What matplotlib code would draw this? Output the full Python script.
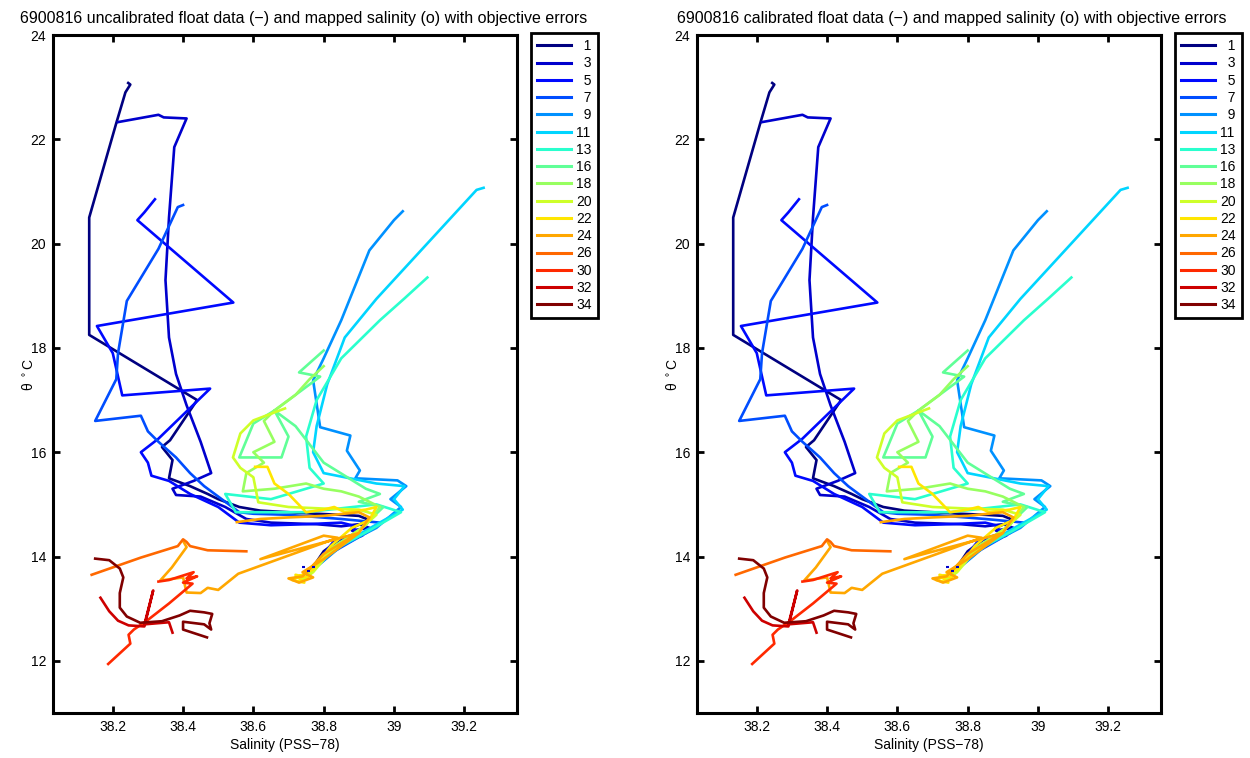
import numpy as np
import matplotlib
matplotlib.use('Agg')
import matplotlib.pyplot as plt

plt.rcParams['font.family'] = ['Liberation Sans', 'DejaVu Sans']

# ---------------- data (salinity PSS-78, potential temperature degC) ----------------
profile_numbers = [1, 3, 5, 7, 9, 11, 13, 16, 18, 20, 22, 24, 26, 30, 32, 34]

s_p01 = [38.244, 38.25, 38.236, 38.21, 38.133, 38.133, 38.30, 38.44, 38.363, 38.34, 38.37, 38.36,
         38.42, 38.47, 38.50, 38.56, 38.62, 38.70, 38.78, 38.85, 38.90, 38.93, 38.88, 38.90,
         38.85, 38.80, 38.76, 38.75]
t_p01 = [23.08, 23.05, 22.90, 22.31, 20.50, 18.25, 17.57, 17.00, 16.23, 16.10, 15.85, 15.50,
         15.35, 15.20, 15.10, 14.95, 14.88, 14.85, 14.82, 14.80, 14.78, 14.70, 14.55, 14.45,
         14.35, 14.10, 13.70, 13.60]

s_p03 = [38.215, 38.33, 38.345, 38.41, 38.375, 38.36, 38.35, 38.36, 38.38, 38.41, 38.45, 38.48,
         38.43, 38.37, 38.38, 38.45, 38.52, 38.58, 38.65, 38.78, 38.85, 38.90, 38.93, 38.88,
         38.91, 38.86, 38.79, 38.755]
t_p03 = [22.33, 22.47, 22.42, 22.40, 21.85, 20.50, 19.30, 18.20, 17.50, 16.90, 16.20, 15.60,
         15.45, 15.30, 15.18, 15.15, 14.95, 14.72, 14.65, 14.62, 14.58, 14.62, 14.55, 14.50,
         14.40, 14.30, 13.95, 13.65]

s_p05 = [38.32, 38.29, 38.27, 38.543, 38.155, 38.20, 38.227, 38.477, 38.33, 38.28, 38.30, 38.31,
         38.36, 38.42, 38.50, 38.56, 38.65, 38.75, 38.85, 38.88, 38.90, 38.83, 38.77, 38.76]
t_p05 = [20.85, 20.60, 20.45, 18.87, 18.42, 17.90, 17.09, 17.22, 16.26, 16.00, 15.80, 15.55,
         15.45, 15.20, 14.95, 14.65, 14.60, 14.62, 14.65, 14.60, 14.40, 14.30, 13.80, 13.65]

s_p07 = [38.40, 38.385, 38.33, 38.24, 38.215, 38.21, 38.15, 38.28, 38.30, 38.33, 38.38, 38.42,
         38.46, 38.52, 38.56, 38.60, 38.70, 38.85, 38.96, 38.92, 38.83, 38.77, 38.755]
t_p07 = [20.74, 20.70, 19.90, 18.90, 17.90, 17.40, 16.60, 16.70, 16.40, 16.20, 15.90, 15.60,
         15.35, 15.05, 14.85, 14.82, 14.80, 14.72, 14.65, 14.45, 14.10, 13.75, 13.62]

s_p09 = [39.025, 39.00, 38.93, 38.85, 38.80, 38.77, 38.79, 38.876, 38.866, 38.903, 38.89, 39.01,
         39.035, 38.99, 39.02, 38.95, 38.85, 38.77, 38.755]
t_p09 = [20.62, 20.45, 19.87, 18.53, 17.80, 17.38, 16.48, 16.32, 16.03, 15.65, 15.50, 15.46,
         15.35, 15.10, 14.95, 14.55, 14.20, 13.75, 13.62]

s_p11 = [39.255, 39.235, 38.95, 38.86, 38.81, 38.78, 38.77, 38.80, 38.95, 39.03, 39.00, 39.025,
         38.92, 38.82, 38.77, 38.755]
t_p11 = [21.07, 21.03, 18.94, 18.20, 17.30, 16.50, 16.00, 15.60, 15.40, 15.35, 15.10, 14.90,
         14.50, 14.10, 13.75, 13.62]

s_p13 = [39.095, 39.03, 38.96, 38.85, 38.78, 38.75, 38.76, 38.80, 38.65, 38.52, 38.55, 38.75,
         38.95, 39.02, 38.93, 38.82, 38.77, 38.755]
t_p13 = [19.35, 18.95, 18.53, 17.80, 17.00, 16.30, 15.70, 15.40, 15.10, 15.20, 14.85, 14.85,
         15.00, 14.85, 14.50, 14.10, 13.75, 13.62]

s_p16 = [38.80, 38.73, 38.79, 38.70, 38.66, 38.60, 38.56, 38.68, 38.70, 38.66, 38.72, 38.80,
         38.92, 38.96, 38.90, 38.97, 38.90, 38.82, 38.77, 38.755]
t_p16 = [17.95, 17.53, 17.45, 17.00, 16.80, 16.55, 15.90, 15.90, 16.30, 16.80, 16.50, 15.80,
         15.30, 15.20, 15.05, 14.95, 14.50, 14.10, 13.75, 13.62]

s_p18 = [38.80, 38.76, 38.72, 38.66, 38.63, 38.66, 38.60, 38.63, 38.58, 38.57, 38.66, 38.75,
         38.80, 38.85, 38.90, 38.96, 38.92, 38.82, 38.77, 38.755]
t_p18 = [17.65, 17.40, 17.10, 16.80, 16.60, 16.20, 16.00, 15.80, 15.60, 15.25, 15.30, 15.40,
         15.30, 15.25, 15.15, 14.95, 14.60, 14.15, 13.75, 13.62]

s_p20 = [38.69, 38.60, 38.563, 38.542, 38.563, 38.60, 38.614, 38.70, 38.80, 38.90, 38.95, 38.90,
         38.82, 38.77, 38.74, 38.72, 38.755]
t_p20 = [16.84, 16.61, 16.36, 15.90, 15.70, 15.52, 15.04, 14.95, 14.92, 14.90, 14.80, 14.50,
         14.10, 13.70, 13.55, 13.62, 13.60]

s_p22 = [38.605, 38.64, 38.66, 38.70, 38.75, 38.80, 38.83, 38.86, 38.92, 38.95, 38.93, 38.88,
         38.82, 38.77, 38.73, 38.71, 38.745, 38.72, 38.755]
t_p22 = [15.72, 15.72, 15.40, 15.20, 14.85, 14.90, 14.95, 14.85, 14.90, 14.95, 14.70, 14.55,
         14.20, 13.75, 13.62, 13.55, 13.50, 13.65, 13.60]

s_p24 = [38.40, 38.41, 38.368, 38.335, 38.40, 38.41, 38.45, 38.47, 38.50, 38.557, 38.84, 38.80,
         38.62, 38.895, 38.80, 38.74, 38.70, 38.73, 38.77, 38.74, 38.80, 38.90, 38.93, 38.90,
         38.80, 38.70, 38.62, 38.553]
t_p24 = [14.30, 14.18, 13.79, 13.54, 13.60, 13.31, 13.30, 13.40, 13.36, 13.67, 14.36, 14.40,
         13.95, 14.44, 14.05, 13.62, 13.58, 13.50, 13.60, 13.70, 13.95, 14.45, 14.75, 14.85,
         14.78, 14.75, 14.72, 14.66]

s_p26 = [38.58, 38.47, 38.42, 38.41, 38.40, 38.385, 38.28, 38.14]
t_p26 = [14.10, 14.12, 14.20, 14.28, 14.33, 14.20, 13.98, 13.65]

s_p30 = [38.187, 38.25, 38.245, 38.26, 38.297, 38.36, 38.427, 38.40, 38.44, 38.41, 38.43, 38.36, 38.33]
t_p30 = [11.94, 12.33, 12.50, 12.60, 12.77, 13.10, 13.48, 13.50, 13.62, 13.58, 13.70, 13.55, 13.52]

s_p32 = [38.165, 38.19, 38.215, 38.245, 38.29, 38.315, 38.29, 38.36, 38.37]
t_p32 = [13.21, 12.95, 12.77, 12.68, 12.66, 13.35, 12.70, 12.74, 12.54]

s_p34 = [38.15, 38.19, 38.22, 38.23, 38.22, 38.22, 38.24, 38.278, 38.34, 38.39, 38.42, 38.46,
         38.483, 38.475, 38.48, 38.46, 38.40, 38.40, 38.468]
t_p34 = [13.96, 13.93, 13.77, 13.60, 13.30, 13.02, 12.85, 12.73, 12.76, 12.87, 12.96, 12.93,
         12.90, 12.72, 12.60, 12.70, 12.75, 12.60, 12.45]

mapped_sal = [38.742, 38.770, 38.756]
mapped_theta = [13.79, 13.79, 13.72]
mapped_err = [0.004, 0.004, 0.004]

salinity_ticks = [38.2, 38.4, 38.6, 38.8, 39.0, 39.2]
salinity_tick_labels = ['38.2', '38.4', '38.6', '38.8', '39', '39.2']
theta_ticks = [12, 14, 16, 18, 20, 22, 24]
salinity_limits = (38.03, 39.35)
theta_limits = (11, 24)

titles = ['6900816 uncalibrated float data (\u2212) and mapped salinity (o) with objective errors',
          '6900816 calibrated float data (\u2212) and mapped salinity (o) with objective errors']

# ---------------- drawing ----------------
sal_profiles = [s_p01, s_p03, s_p05, s_p07, s_p09, s_p11, s_p13, s_p16,
                s_p18, s_p20, s_p22, s_p24, s_p26, s_p30, s_p32, s_p34]
theta_profiles = [t_p01, t_p03, t_p05, t_p07, t_p09, t_p11, t_p13, t_p16,
                  t_p18, t_p20, t_p22, t_p24, t_p26, t_p30, t_p32, t_p34]

jet = plt.get_cmap('jet')
n = len(profile_numbers)
colors = [jet(i / (n - 1)) for i in range(n)]

W, H = 1250, 758
fig = plt.figure(figsize=(W / 100, H / 100), dpi=100)

panel_left_px = [53, 697]
title_center_px = [304, 952]
ax_w_px = 464
ax_top_px, ax_bot_px = 35, 713

for k in range(2):
    ax = fig.add_axes([panel_left_px[k] / W, 1 - ax_bot_px / H,
                       ax_w_px / W, (ax_bot_px - ax_top_px) / H])
    for i in range(n):
        ax.plot(sal_profiles[i], theta_profiles[i], color=colors[i], lw=1.9,
                label=str(profile_numbers[i]).rjust(2, '\u2007'), solid_joinstyle='round')
    ax.errorbar(mapped_sal, mapped_theta, xerr=mapped_err, fmt='none',
                ecolor=(0, 0, 0.8), elinewidth=1.5, capsize=0)
    ax.set_xlim(*salinity_limits)
    ax.set_ylim(*theta_limits)
    ax.set_xticks(salinity_ticks)
    ax.set_xticklabels(salinity_tick_labels)
    ax.set_yticks(theta_ticks)
    ax.tick_params(direction='in', length=5, width=2, top=True, right=True,
                   labelsize=10, pad=5, colors='black')
    for sp in ax.spines.values():
        sp.set_linewidth(2.2)
    ax.set_xlabel('Salinity (PSS\u221278)', fontsize=10, labelpad=3)
    ax.set_ylabel('\u03b8 $^\\circ$C', fontsize=10, labelpad=-4)
    leg = ax.legend(loc='upper left', bbox_to_anchor=(1.03, 1.003), borderaxespad=0,
                    frameon=True, fancybox=False, edgecolor='black', framealpha=1,
                    fontsize=10, handlelength=2.4, handletextpad=0.4,
                    labelspacing=0.235, borderpad=0.45)
    leg.get_frame().set_linewidth(2)
    for line in leg.get_lines():
        line.set_linewidth(2.2)
    fig.text(title_center_px[k] / W, 1 - 18 / H, titles[k], ha='center', va='center', fontsize=11.5)

fig.savefig('out.png', dpi=100)
